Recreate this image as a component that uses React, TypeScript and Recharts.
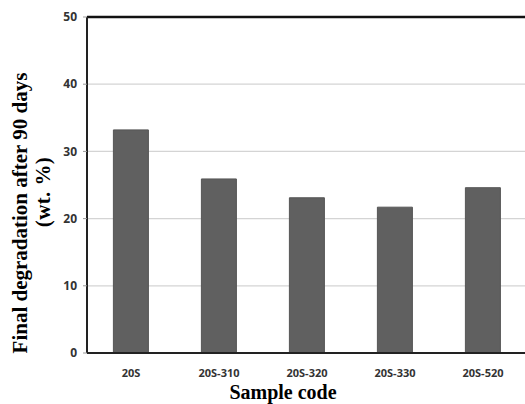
import React from "react";
import { Bar, BarChart, CartesianGrid, Label, ReferenceLine, XAxis, YAxis } from "recharts";

const SAMPLES = ["20S", "20S-310", "20S-320", "20S-330", "20S-520"];
const DEGRADATION = [33.2, 25.9, 23.1, 21.7, 24.6];
const Y_TICKS = [0, 10, 20, 30, 40, 50];
const BOUNDARY_TICKS = [0, 1, 2, 3, 4, 5];

const data = SAMPLES.map((s, i) => ({ sample: s, value: DEGRADATION[i] }));

const tickFont = { fontFamily: "Open Sans", fontWeight: 700, fill: "#333" };
const SERIF = "Liberation Serif";

export default function App() {
  return (
    <div style={{ position: "absolute", left: 0, top: 0, width: 525, height: 404, overflow: "hidden", background: "#fff" }}>
      <BarChart width={530} height={404} data={data} margin={{ top: 17, right: 3, left: 0, bottom: 0 }} barCategoryGap="30%">
        <CartesianGrid vertical={false} stroke="#d4d4d4" strokeWidth={1.2} />
        <XAxis
          xAxisId="grid"
          type="number"
          domain={[0, 5]}
          allowDataOverflow
          ticks={BOUNDARY_TICKS}
          height={0}
          axisLine={false}
          tickLine={{ stroke: "#bbb" }}
          tickSize={5}
          tick={() => <g />}
        />
        <XAxis
          xAxisId="cat"
          dataKey="sample"
          height={51}
          axisLine={{ stroke: "#222", strokeWidth: 2 }}
          tickLine={false}
          tickMargin={10}
          tick={{ ...tickFont, fontSize: 11 }}
          interval={0}
        >
          <Label
            content={() => (
              <text x={283} y={399} textAnchor="middle" fontFamily={SERIF} fontWeight={700} fontSize={20} fill="#000">
                Sample code
              </text>
            )}
          />
        </XAxis>
        <YAxis
          width={87}
          domain={[0, 50]}
          ticks={Y_TICKS}
          axisLine={{ stroke: "#222", strokeWidth: 2 }}
          tickLine={{ stroke: "#999" }}
          tickSize={4}
          tickMargin={6}
          tick={{ ...tickFont, fontSize: 12 }}
        >
          <Label
            content={() => (
              <g fontFamily={SERIF} fontWeight={700} fontSize={21} fill="#000">
                <text x={27} y={213} textAnchor="middle" transform="rotate(-90 27 213)">
                  Final degradation after 90 days
                </text>
                <text x={50} y={192} textAnchor="middle" letterSpacing={0.4} transform="rotate(-90 50 192)">
                  (wt. %)
                </text>
              </g>
            )}
          />
        </YAxis>
        <ReferenceLine xAxisId="cat" y={50} stroke="#111" strokeWidth={2.5} />
        <Bar xAxisId="cat" dataKey="value" fill="#606060" stroke="#555" strokeWidth={1} isAnimationActive={false} />
      </BarChart>
    </div>
  );
}
